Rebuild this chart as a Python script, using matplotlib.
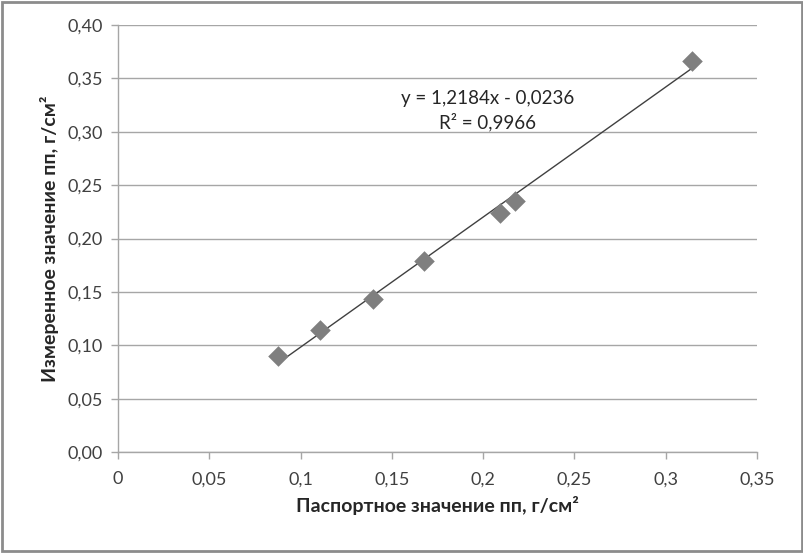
import matplotlib
matplotlib.use("Agg")
import matplotlib.pyplot as plt
import numpy as np
from matplotlib.ticker import FixedLocator, FixedFormatter

# Data
x_passport = [0.0876, 0.1106, 0.1397, 0.1676, 0.2092, 0.2174, 0.3144]
y_measured = [0.0899, 0.1143, 0.1433, 0.1789, 0.2239, 0.2351, 0.3663]
x_ticks = [0, 0.05, 0.1, 0.15, 0.2, 0.25, 0.3, 0.35]
x_tick_labels = ["0", "0,05", "0,1", "0,15", "0,2", "0,25", "0,3", "0,35"]
y_ticks = [0.0, 0.05, 0.10, 0.15, 0.20, 0.25, 0.30, 0.35, 0.40]
y_tick_labels = ["0,00", "0,05", "0,10", "0,15", "0,20", "0,25", "0,30", "0,35", "0,40"]
slope, intercept = 1.2184, -0.0236
eq_text = "y = 1,2184x - 0,0236"
r2_text = "R² = 0,9966"

plt.rcParams['font.family'] = ['Lato', 'DejaVu Sans']

fig = plt.figure(figsize=(8.04, 5.53), dpi=100)
ax = fig.add_axes([118/804, 101/553, (757-118)/804, (452-25)/553])

ax.set_xlim(0, 0.35)
ax.set_ylim(0, 0.40)

ax.yaxis.set_major_locator(FixedLocator(y_ticks))
ax.yaxis.set_major_formatter(FixedFormatter(y_tick_labels))
ax.xaxis.set_major_locator(FixedLocator(x_ticks))
ax.xaxis.set_major_formatter(FixedFormatter(x_tick_labels))

ax.grid(axis='y', color='#a6a6a6', linewidth=1.0)
ax.set_axisbelow(True)
for s in ['top', 'right']:
    ax.spines[s].set_visible(False)
for s in ['left', 'bottom']:
    ax.spines[s].set_color('#a6a6a6')
    ax.spines[s].set_linewidth(1.0)
ax.tick_params(axis='both', colors='#a6a6a6', labelcolor='#404040', labelsize=13, length=5, width=1)
ax.tick_params(axis='x', pad=9)
ax.tick_params(axis='y', pad=6)

xs = np.array([min(x_passport), max(x_passport)])
ax.plot(xs, slope * xs + intercept, color='#404040', linewidth=1.0, zorder=2)
ax.scatter(x_passport, y_measured, marker='D', s=110, color='#7f7f7f', zorder=3, linewidths=0)

ax.text(0.2025, 0.3315, eq_text, ha='center', va='center', fontsize=13.5, color='#262626')
ax.text(0.2025, 0.309, r2_text, ha='center', va='center', fontsize=13.5, color='#262626')

ax.set_xlabel("Паспортное значение пп, г/см²", fontsize=14, fontweight='bold', color='#262626', labelpad=6)
ax.set_ylabel("Измеренное значение пп, г/см²", fontsize=14, fontweight='bold', color='#262626', labelpad=6)

fig.patches.append(plt.Rectangle((0.002, 0.003), 0.996, 0.994, transform=fig.transFigure,
                                 fill=False, edgecolor='#8c8c8c', linewidth=2))

fig.savefig("out.png", dpi=100)
